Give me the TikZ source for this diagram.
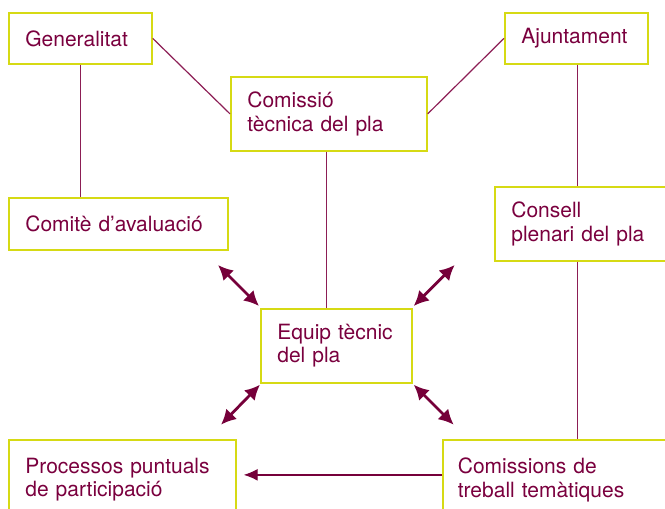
\documentclass[tikz,border=0pt]{standalone}
\usepackage{fontspec}
\setmainfont{TeX Gyre Heros}
\usetikzlibrary{arrows.meta,calc}
\definecolor{boxc}{RGB}{214,218,20}
\definecolor{txtc}{RGB}{122,0,62}
\definecolor{linec}{RGB}{140,30,85}
\definecolor{arrc}{RGB}{118,0,58}
\begin{document}
\begin{tikzpicture}[x=1pt,y=-1pt,
  box/.style={draw=boxc, line width=1.7pt, text=txtc, align=left, inner xsep=16.5pt,
    inner ysep=0pt, anchor=north west, font=\fontsize{21}{23.5}\selectfont},
  conn/.style={draw=linec, line width=1.2pt},
  dbl/.style={draw=arrc, line width=2.8pt, {Latex[length=15pt,width=15pt]}-{Latex[length=15pt,width=15pt]}},
  sgl/.style={draw=arrc, line width=1.4pt, -{Latex[length=14pt,width=12pt]}}]
\useasboundingbox (0,0) rectangle (665,509);
\clip (0,0) rectangle (665,509);
\node[box, text width=110pt, minimum height=51pt] (gen) at (8,12) {Generalitat};
\node[box, text width=163pt, minimum height=74pt] (com) at (230,76) {Comissió\\tècnica del pla};
\node[box, text width=110pt, minimum height=51pt] (aj) at (504,12) {Ajuntament};
\node[box, text width=186pt, minimum height=52pt] (comite) at (8,197) {Comitè d’avaluació};
\node[box, text width=180pt, minimum height=74pt] (consell) at (494,186) {Consell\\plenari del pla};
\node[box, text width=118pt, minimum height=74pt] (equip) at (260,308) {Equip tècnic\\del pla};
\node[box, text width=194pt, minimum height=80pt] (proc) at (8,439) {Processos puntuals\\de participació};
\node[box, inner xsep=15pt, text width=200pt, minimum height=80pt] (comis) at (442,439) {Comissions de\\treball temàtiques};
\draw[conn] (gen.east) -- (com.west);
\draw[conn] (com.east) -- (aj.west);
\draw[conn] (gen.south) -- (gen.south |- comite.north);
\draw[conn] ([xshift=-2pt]com.south) -- ([xshift=-2pt]com.south |- equip.north);
\draw[conn] ([xshift=1.5pt]aj.south) -- ([xshift=1.5pt]aj.south |- consell.north);
\draw[conn] ([xshift=1.5pt]aj.south |- consell.south) -- ([xshift=1.5pt]aj.south |- comis.north);
\draw[sgl, shorten >=7pt] ([yshift=5pt]comis.west) -- ([yshift=5pt]proc.east);
\draw[dbl] ([shift={(-1,-2)}]equip.north west) -- ++(-41,-41);
\draw[dbl] ([shift={(1,-2)}]equip.north east) -- ++(41,-41);
\draw[dbl] ([shift={(0,1)}]equip.south west) -- ++(-39,40);
\draw[dbl] ([shift={(1,1)}]equip.south east) -- ++(40,40);
\end{tikzpicture}
\end{document}
